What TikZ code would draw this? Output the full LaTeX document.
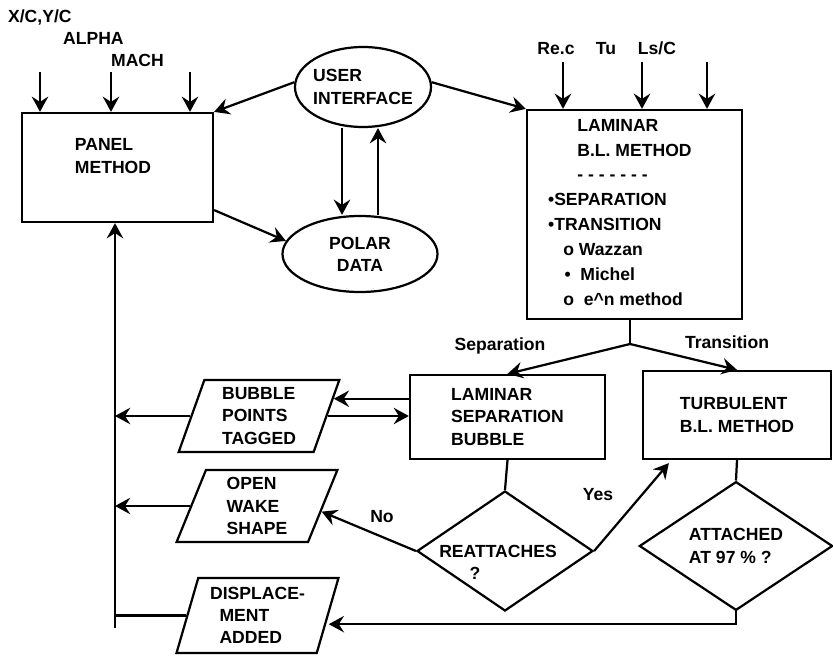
\documentclass[tikz,border=0pt]{standalone}
\usepackage{fontspec}
\setmainfont{Liberation Sans}
\usetikzlibrary{shapes.geometric,arrows.meta}

\begin{document}
\begin{tikzpicture}[x=0.03cm,y=-0.03cm,line width=1.9pt,
		every node/.style={font=\bfseries\fontsize{15}{19}\selectfont},
		box/.style={draw,rectangle,inner sep=0pt},
		oval/.style={draw,ellipse,inner sep=0pt,align=left},
		slant/.style={draw,trapezium,trapezium left angle=73,trapezium right angle=107,trapezium stretches=true,inner sep=0pt,minimum width=4.86cm,minimum height=2.16cm,align=left},
		decide/.style={draw,diamond,inner sep=0pt,align=left},
		txt/.style={inner sep=0pt,align=left},
		arr/.style={-{Stealth[length=13pt,width=14pt,inset=4.5pt]}}]
		\useasboundingbox (0,0) rectangle (833,657);
		\node[box,minimum width=5.73cm,minimum height=3.27cm] (panel) at (117.5,167.5) {};
		\node[txt] (paneltxt) at (113,156) {PANEL\\METHOD};
		\node[oval,inner xsep=-3pt,minimum width=4.08cm,minimum height=2.4cm] (ui) at (363,87) {USER\\INTERFACE};
		\node[oval,align=center,minimum width=4.65cm,minimum height=2.28cm] (polar) at (360,254) {POLAR\\DATA};
		\node[box,minimum width=6.45cm,minimum height=6.27cm] (lam) at (634.5,214.5) {};
		\node[txt,anchor=north west,font=\bfseries\fontsize{15}{21.2}\selectfont] (lamtxt) at (547,118) {\hspace*{25pt}LAMINAR\\
			\hspace*{25pt}B.L. METHOD\\
			\hspace*{25pt}- - - - - - -\\
			\textbullet SEPARATION\\
			\textbullet TRANSITION\\
			\hspace*{13pt}o Wazzan\\
			\hspace*{14pt}\textbullet\ \ Michel\\
			\hspace*{13pt}o\ \ e\textasciicircum n method};
		\node[box,align=left,minimum width=5.85cm,minimum height=2.52cm] (sep) at (507.5,417) {LAMINAR\\SEPARATION\\BUBBLE};
		\node[box,align=left,minimum width=5.64cm,minimum height=2.64cm] (turb) at (737,415) {TURBULENT\\B.L. METHOD};
		\node[slant] (bub) at (259,416) {BUBBLE\\POINTS\\TAGGED};
		\node[slant] (wake) at (257,506) {OPEN\\WAKE\\SHAPE};
		\node[slant,minimum height=2.25cm] (disp) at (257.5,615.5) {DISPLACE-\\\hspace*{8pt}MENT\\\hspace*{8pt}ADDED};
		\node[decide,minimum width=5.28cm,minimum height=3.6cm] (reatt) at (505,551) {};
		\node[txt] (reatttxt) at (498,562) {REATTACHES\\\hspace*{26pt}?};
		\node[decide,minimum width=5.8cm,minimum height=3.57cm] (att) at (736,546) {ATTACHED\\AT 97 \% ?};

		\node[txt,anchor=base west] (xy) at (7,23) {X/C,Y/C};
		\node[txt,anchor=base west] (alpha) at (62,45) {ALPHA};
		\node[txt,anchor=base west] (mach) at (110,67) {MACH};
		\node[txt,anchor=base] (rec) at (556,55) {Re.c};
		\node[txt,anchor=base] (tu) at (606,55) {Tu};
		\node[txt,anchor=base] (lsc) at (657,55) {Ls/C};
		\node[txt,anchor=base] (seplbl) at (500,351) {Separation};
		\node[txt,anchor=base] (trlbl) at (727,349) {Transition};
		\node[txt,anchor=base] (nolbl) at (382,523) {No};
		\node[txt,anchor=base] (yeslbl) at (598,501) {Yes};

		\foreach \x [count=\i] in {40,111,190} {
			\coordinate (pin\i) at (\x,72);
			\draw[arr] (pin\i) -- (pin\i |- panel.north);
		}
		\foreach \x [count=\i] in {563,642,707} {
			\coordinate (lin\i) at (\x,62);
			\draw[arr] (lin\i) -- (lin\i |- lam.north);
		}
		\draw[arr] (ui.176) -- (panel.north east);
		\draw[arr] (ui.4) -- (lam.north west);
		\draw[arr] ([xshift=-0.63cm]ui.south) -- ([xshift=-0.63cm]ui.south |- polar.north);
		\draw[arr] ([xshift=0.54cm]polar.north) -- ([xshift=0.54cm]polar.north |- ui.south);
		\draw[arr] ([yshift=0.39cm]panel.south east) -- (polar.170);

		\coordinate (split) at (630,344);
		\draw (lam.south -| split) -- (split);
		\draw[arr] (split) -- (sep.north);
		\draw[arr] (split) -- (turb.north);

		\coordinate (spine) at (115,628);
		\draw[arr] (spine) -- (spine |- panel.south);
		\draw[arr] (bub.13 -| sep.west) -- (bub.13);
		\draw[arr] (bub.east) -- (bub.east -| sep.west);
		\draw[arr] (bub.west) -- (bub.west -| spine);
		\draw[arr] (wake.west) -- (wake.west -| spine);
		\draw (disp.west) -- (disp.west -| spine);

		\draw (sep.south) -- (reatt.north);
		\draw[arr] (reatt.west) -- (wake.355);
		\draw[arr] (reatt.east) -- ([xshift=0.81cm,yshift=-0.09cm]turb.south west);
		\draw (turb.south) -- (att.north);
		\draw[arr] (att.south) |- ([yshift=-0.26cm]disp.east);
		\end{tikzpicture}
\end{document}
